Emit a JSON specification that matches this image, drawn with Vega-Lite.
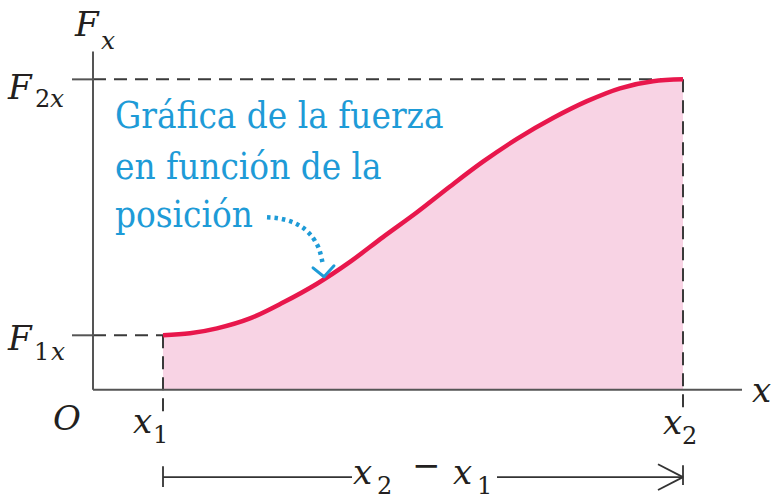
{
  "$schema": "https://vega.github.io/schema/vega-lite/v6.json",
  "width": 772,
  "height": 499,
  "autosize": {"type": "fit", "contains": "padding"},
  "padding": 0,
  "background": "white",
  "config": {"view": {"stroke": null}},
  "datasets": {
    "curve": [
      {"x": 7.0, "F": 5.5},
      {"x": 9.7, "F": 5.7},
      {"x": 12.4, "F": 6.2},
      {"x": 15.7, "F": 7.2},
      {"x": 19.0, "F": 8.8},
      {"x": 22.4, "F": 10.7},
      {"x": 25.7, "F": 12.9},
      {"x": 29.0, "F": 15.4},
      {"x": 32.4, "F": 17.9},
      {"x": 35.7, "F": 20.5},
      {"x": 39.0, "F": 23.0},
      {"x": 42.4, "F": 25.3},
      {"x": 46.0, "F": 27.4},
      {"x": 49.4, "F": 29.1},
      {"x": 52.7, "F": 30.4},
      {"x": 56.0, "F": 31.1},
      {"x": 59.0, "F": 31.3}
    ],
    "segments": [
      {"kind": "axis", "x": 0, "y": 0, "x2": 0, "y2": 34.1},
      {"kind": "axis", "x": 0, "y": 0, "x2": 64.9, "y2": 0},
      {"kind": "axis", "x": -2.1, "y": 31.3, "x2": 0, "y2": 31.3},
      {"kind": "axis", "x": -2.1, "y": 5.5, "x2": 0, "y2": 5.5},
      {"kind": "dash", "x": 0, "y": 31.3, "x2": 59, "y2": 31.3},
      {"kind": "dash", "x": 0, "y": 5.5, "x2": 7, "y2": 5.5},
      {"kind": "dash", "x": 7, "y": 5.5, "x2": 7, "y2": -2.2},
      {"kind": "dash", "x": 59, "y": 31.3, "x2": 59, "y2": -2.2},
      {"kind": "span", "x": 7, "y": -8.8, "x2": 25.9, "y2": -8.8},
      {"kind": "span", "x": 40.4, "y": -8.8, "x2": 59, "y2": -8.8},
      {"kind": "span", "x": 7, "y": -7.7, "x2": 7, "y2": -9.8},
      {"kind": "span", "x": 59, "y": -7.6, "x2": 59, "y2": -9.6},
      {"kind": "span", "x": 56.5, "y": -7.5, "x2": 59, "y2": -8.8},
      {"kind": "span", "x": 56.5, "y": -10.1, "x2": 59, "y2": -8.8},
      {"kind": "pointer", "x": 22.0, "y": 12.3, "x2": 23.1, "y2": 11.4},
      {"kind": "pointer", "x": 24.1, "y": 12.5, "x2": 23.1, "y2": 11.4}
    ],
    "pointerPath": [
      {"x": 17.4, "y": 17.4},
      {"x": 19.0, "y": 17.2},
      {"x": 20.4, "y": 16.7},
      {"x": 21.4, "y": 16.0},
      {"x": 22.2, "y": 15.0},
      {"x": 22.7, "y": 13.9},
      {"x": 23.0, "y": 12.6}
    ],
    "labels": [
      {"kind": "var", "x": -1.8, "y": 35.7, "text": "F"},
      {"kind": "subvar", "x": 0.8, "y": 34.4, "text": "x"},
      {"kind": "var", "x": -8.5, "y": 29.3, "text": "F"},
      {"kind": "subnum", "x": -5.8, "y": 28.5, "text": "2"},
      {"kind": "subvar", "x": -4.3, "y": 28.5, "text": "x"},
      {"kind": "var", "x": -8.5, "y": 4.0, "text": "F"},
      {"kind": "subnum", "x": -5.9, "y": 3.0, "text": "1"},
      {"kind": "subvar", "x": -4.2, "y": 3.0, "text": "x"},
      {"kind": "var", "x": -4.0, "y": -4.0, "text": "O"},
      {"kind": "var", "x": 4.0, "y": -4.4, "text": "x"},
      {"kind": "subnum", "x": 6.0, "y": -5.4, "text": "1"},
      {"kind": "var", "x": 57.0, "y": -4.5, "text": "x"},
      {"kind": "subnum", "x": 58.9, "y": -5.5, "text": "2"},
      {"kind": "var", "x": 65.9, "y": -1.2, "text": "x"},
      {"kind": "var", "x": 26.0, "y": -9.5, "text": "x"},
      {"kind": "subnum", "x": 28.4, "y": -10.5, "text": "2"},
      {"kind": "op", "x": 31.9, "y": -8.8, "text": "−"},
      {"kind": "var", "x": 36.0, "y": -9.5, "text": "x"},
      {"kind": "subnum", "x": 38.4, "y": -10.5, "text": "1"}
    ],
    "note": [
      {"x": 2.2, "y": 26.4, "text": "Gráfica de la fuerza"},
      {"x": 2.2, "y": 21.3, "text": "en función de la"},
      {"x": 2.2, "y": 16.4, "text": "posición"}
    ]
  },
  "encoding": {
    "x": {"field": "x", "type": "quantitative", "axis": null,
          "scale": {"domain": [-9.3, 67.9], "nice": false, "zero": false}},
    "y": {"field": "y", "type": "quantitative", "axis": null,
          "scale": {"domain": [-10.6, 39.3], "nice": false, "zero": false}}
  },
  "layer": [
    {
      "data": {"name": "curve"},
      "mark": {"type": "area", "color": "#f8d3e4", "interpolate": "monotone"},
      "encoding": {
        "y": {"field": "F", "type": "quantitative"},
        "y2": {"datum": 0}
      }
    },
    {
      "data": {"name": "segments"},
      "transform": [{"filter": "datum.kind === 'dash'"}],
      "mark": {"type": "rule", "color": "#3a3a3a", "strokeWidth": 2, "strokeDash": [13, 8]},
      "encoding": {
        "x2": {"field": "x2"},
        "y2": {"field": "y2"}
      }
    },
    {
      "data": {"name": "segments"},
      "transform": [{"filter": "datum.kind === 'axis'"}],
      "mark": {"type": "rule", "color": "#555555", "strokeWidth": 2},
      "encoding": {
        "x2": {"field": "x2"},
        "y2": {"field": "y2"}
      }
    },
    {
      "data": {"name": "segments"},
      "transform": [{"filter": "datum.kind === 'span'"}],
      "mark": {"type": "rule", "color": "#333333", "strokeWidth": 1.8},
      "encoding": {
        "x2": {"field": "x2"},
        "y2": {"field": "y2"}
      }
    },
    {
      "data": {"name": "curve"},
      "mark": {"type": "line", "color": "#e8174c", "strokeWidth": 4.5, "interpolate": "monotone"},
      "encoding": {
        "y": {"field": "F", "type": "quantitative"}
      }
    },
    {
      "data": {"name": "pointerPath"},
      "mark": {"type": "line", "color": "#1e9bd7", "strokeWidth": 4.5, "strokeCap": "butt",
               "strokeDash": [3.5, 4], "interpolate": "monotone"},
      "encoding": {}
    },
    {
      "data": {"name": "segments"},
      "transform": [{"filter": "datum.kind === 'pointer'"}],
      "mark": {"type": "rule", "color": "#1e9bd7", "strokeWidth": 3, "strokeCap": "round"},
      "encoding": {
        "x2": {"field": "x2"},
        "y2": {"field": "y2"}
      }
    },
    {
      "data": {"name": "note"},
      "mark": {"type": "text", "font": "DejaVu Serif Condensed", "fontSize": 36.5, "color": "#1e9bd7",
               "align": "left", "baseline": "alphabetic"},
      "encoding": {"text": {"field": "text"}}
    },
    {
      "data": {"name": "labels"},
      "transform": [{"filter": "datum.kind === 'var'"}],
      "mark": {"type": "text", "font": "DejaVu Serif", "fontSize": 34, "fontStyle": "italic",
               "color": "#231f20", "align": "left", "baseline": "alphabetic"},
      "encoding": {"text": {"field": "text"}}
    },
    {
      "data": {"name": "labels"},
      "transform": [{"filter": "datum.kind === 'subvar'"}],
      "mark": {"type": "text", "font": "DejaVu Serif", "fontSize": 25, "fontStyle": "italic",
               "color": "#231f20", "align": "left", "baseline": "alphabetic"},
      "encoding": {"text": {"field": "text"}}
    },
    {
      "data": {"name": "labels"},
      "transform": [{"filter": "datum.kind === 'subnum'"}],
      "mark": {"type": "text", "font": "DejaVu Serif", "fontSize": 24,
               "color": "#231f20", "align": "left", "baseline": "alphabetic"},
      "encoding": {"text": {"field": "text"}}
    },
    {
      "data": {"name": "labels"},
      "transform": [{"filter": "datum.kind === 'op'"}],
      "mark": {"type": "text", "font": "DejaVu Serif", "fontSize": 34,
               "color": "#231f20", "align": "left", "baseline": "alphabetic"},
      "encoding": {"text": {"field": "text"}}
    }
  ]
}
